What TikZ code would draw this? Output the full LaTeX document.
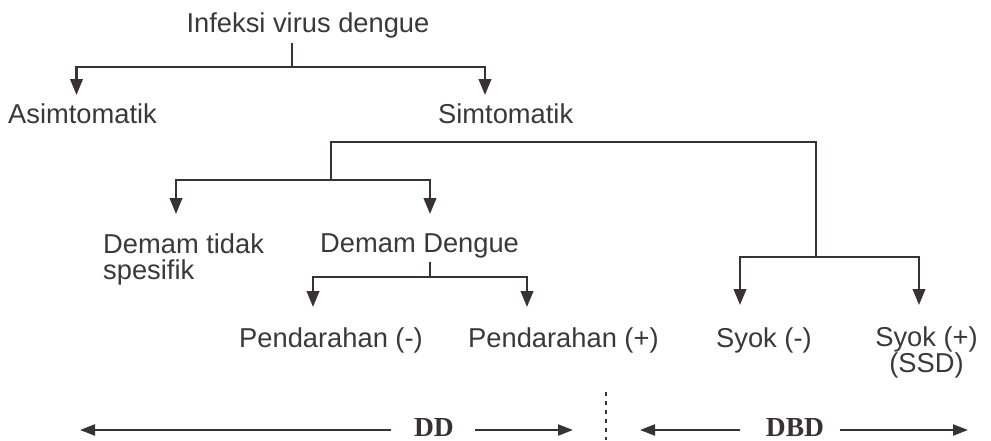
\documentclass[tikz,border=0pt]{standalone}
\usepackage{fontspec}
\setmainfont{Liberation Sans}
\newfontfamily\rangefont{Liberation Serif}
\usetikzlibrary{arrows.meta}
\definecolor{ink}{RGB}{56,50,53}
\definecolor{txt}{RGB}{58,56,58}
\begin{document}
\begin{tikzpicture}[x=1pt,y=-1pt,
  lbl/.style={inner sep=0pt, text=txt, font=\fontsize{27.3}{26}\selectfont},
  rangelbl/.style={inner sep=0pt, text=ink, font=\rangefont\bfseries\fontsize{27.5}{26}\selectfont},
  link/.style={draw=ink, line width=2.4pt},
  branch/.style={link, -{Triangle[length=16pt,width=12.5pt]}},
  span/.style={draw=ink, line width=2.2pt, -{Triangle[length=15pt,width=11pt]}},
  divider/.style={draw=ink, line width=1.6pt, dash pattern=on 4pt off 5pt}]
\useasboundingbox (0,0) rectangle (991,440);

% labels
\node[lbl, anchor=base] (inf) at (308,32) {Infeksi virus dengue};
\node[lbl, anchor=base west] (asim) at (8,123) {Asimtomatik};
\node[lbl, anchor=base west] (simt) at (438,123) {Simtomatik};
\node[lbl, anchor=north west, align=left] (dts) at (103,234) {Demam tidak\\spesifik};
\node[lbl, anchor=base west] (dd) at (320,252) {Demam Dengue};
\node[lbl, anchor=base west] (pmin) at (239,347) {Pendarahan (-)};
\node[lbl, anchor=base west] (pplus) at (468,347) {Pendarahan (+)};
\node[lbl, anchor=base west] (smin) at (716,347) {Syok (-)};
\node[lbl, anchor=north, align=center] (splus) at (926.5,327) {Syok (+)\\(SSD)};
\node[rangelbl, anchor=base] (ddr) at (434,436) {DD};
\node[rangelbl, anchor=base] (dbdr) at (795,436) {DBD};

% junctions and arrow tips
\coordinate (t0) at (292,43);
\coordinate (t1) at (292,67);
\coordinate (tA) at (76.5,95);
\coordinate (tS) at (485,95);
\coordinate (s1) at (331,142);
\coordinate (s2) at (816,142);
\coordinate (d0) at (331,180);
\coordinate (tDT) at (176,214);
\coordinate (tDD) at (430,214);
\coordinate (p1) at (430,262);
\coordinate (p0) at (430,277);
\coordinate (tPm) at (313,307);
\coordinate (tPp) at (527,307);
\coordinate (k0) at (816,257);
\coordinate (tSm) at (740,305);
\coordinate (tSp) at (919,305);

% infection splits
\draw[link] (t0) -- (t1);
\draw[branch] (t1) -| (tA);
\draw[branch] (t1) -| (tS);

% symptomatic splits
\draw[link] (d0) -- (s1) -- (s2) -- (k0);
\draw[branch] (d0) -| (tDT);
\draw[branch] (d0) -| (tDD);

% dengue fever splits
\draw[link] (p1) -- (p0);
\draw[branch] (p0) -| (tPm);
\draw[branch] (p0) -| (tPp);

% shock splits
\draw[branch] (k0) -| (tSm);
\draw[branch] (k0) -| (tSp);

% ranges along the bottom
\coordinate (ddL0) at (391,430);
\coordinate (ddL1) at (80,430);
\coordinate (ddR0) at (475,430);
\coordinate (ddR1) at (573,430);
\coordinate (bL0) at (740,430);
\coordinate (bL1) at (640,430);
\coordinate (bR0) at (840,430);
\coordinate (bR1) at (968,430);
\coordinate (v0) at (606,392);
\coordinate (v1) at (606,440);
\draw[span] (ddL0) -- (ddL1);
\draw[span] (ddR0) -- (ddR1);
\draw[span] (bL0) -- (bL1);
\draw[span] (bR0) -- (bR1);
\draw[divider] (v0) -- (v1);
\end{tikzpicture}
\end{document}
